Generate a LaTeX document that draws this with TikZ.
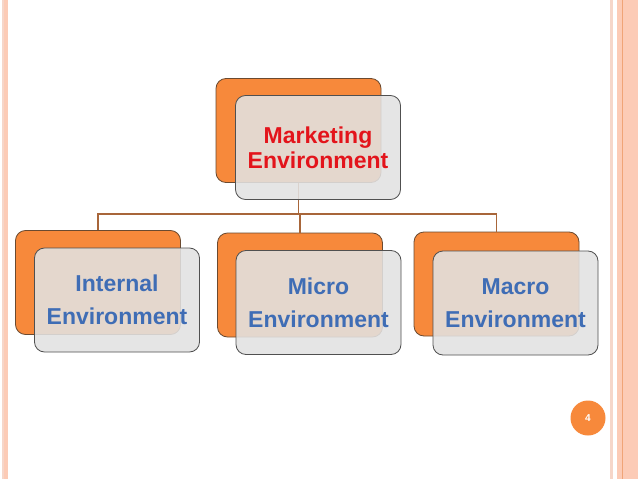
\documentclass[tikz,border=0pt]{standalone}
\usepackage{fontspec}
\setmainfont{Liberation Sans}
\definecolor{boxorange}{HTML}{F7893B}
\definecolor{backline}{HTML}{6B4A30}
\definecolor{frontgray}{HTML}{E2E2E2}
\definecolor{frontline}{HTML}{505050}
\definecolor{linkbrown}{HTML}{A8663A}
\definecolor{titlered}{HTML}{E3141B}
\definecolor{itemblue}{HTML}{3F6DB5}
\definecolor{stripepale}{HTML}{F6D6C9}
\definecolor{stripepeach}{HTML}{FCCBB6}
\definecolor{stripeline}{HTML}{F0A477}

\begin{document}
\begin{tikzpicture}[
    x=1pt, y=-1pt,
    back/.style  = {draw=backline, line width=0.8pt, fill=boxorange,
                    rounded corners=10pt, minimum width=165pt, minimum height=104pt},
    front/.style = {draw=frontline, line width=0.8pt, fill=frontgray, fill opacity=0.88,
                    text opacity=1, text=#1, rounded corners=10pt, minimum width=165pt,
                    minimum height=104pt, align=center,
                    font=\bfseries\fontsize{23}{33}\selectfont},
    link/.style  = {draw=linkbrown, line width=1.8pt},
    pagenum/.style = {circle, fill=boxorange, minimum size=35pt, inner sep=0pt,
                      text=white, font=\bfseries\fontsize{10}{12}\selectfont},
]
\useasboundingbox (0,0) rectangle (638,479);
\fill[white] (0,0) rectangle (638,479);

% Page border stripes
\fill[stripepale]  (2,0) rectangle (3.5,479);
\fill[stripepeach] (4,0) rectangle (7.5,479);
\fill[stripepale]  (610,0) rectangle (612.5,479);
\fill[stripepeach] (617,0) rectangle (638,479);
\draw[stripeline, line width=0.8pt] (622,0) -- (622,479);

% Back boxes
\node[back] (mback) at (298.5,130.5) {};
\node[back] (iback) at (98,282.5)    {};
\node[back] (cback) at (300,285)     {};
\node[back] (aback) at (496.5,284)   {};

% Connectors
\coordinate (bus) at ([yshift=-31pt]mback.south);
\draw[link] (mback.south) -- (bus);
\draw[link] (bus) -| (iback.north);
\draw[link] (bus) -| (aback.north);
\draw[link] (bus) -- (bus -| cback.north) -- (cback.north);

% Front boxes
\node[front=titlered, font=\bfseries\fontsize{23}{25}\selectfont,
      xshift=19.5pt, yshift=-17pt] (mkt) at (mback) {Marketing\\Environment};
\node[front=itemblue, xshift=19pt, yshift=-17.5pt] (internal) at (iback) {Internal\\Environment};
\node[front=itemblue, xshift=18.5pt, yshift=-17.5pt] (micro) at (cback) {Micro\\Environment};
\node[front=itemblue, xshift=19pt, yshift=-19pt] (macro) at (aback) {Macro\\Environment};

% Page number
\node[pagenum] (pnum) at (588,418) {4};

\end{tikzpicture}
\end{document}
